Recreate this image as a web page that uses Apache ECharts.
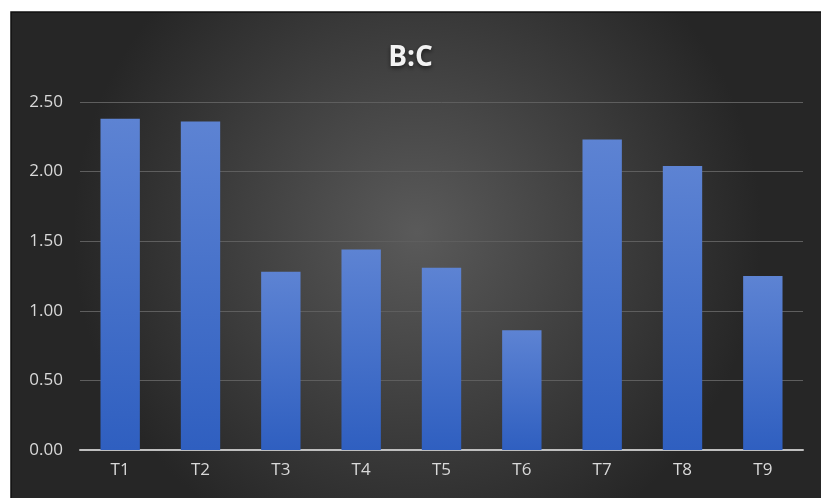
<!DOCTYPE html>
<html>
<head>
<meta charset="utf-8">
<script src="https://cdn.jsdelivr.net/npm/echarts@6/dist/echarts.min.js"></script>
<style>
  html, body { margin: 0; padding: 0; background: #fff; }
  #main { width: 821px; height: 498px; }
</style>
</head>
<body>
<div id="main"></div>
<script>
const categories = ['T1', 'T2', 'T3', 'T4', 'T5', 'T6', 'T7', 'T8', 'T9'];
const ratioValues = [2.38, 2.36, 1.28, 1.44, 1.31, 0.86, 2.23, 2.04, 1.25];

const chart = echarts.init(document.getElementById('main'));

const option = {
  backgroundColor: '#fff',
  graphic: [{
    type: 'rect',
    z: -10,
    silent: true,
    shape: { x: 11, y: 12, width: 812, height: 490 },
    style: {
      fill: new echarts.graphic.RadialGradient(0.5, 0.45, 0.7, [
        { offset: 0, color: '#5a5a5a' },
        { offset: 1, color: '#262626' }
      ]),
      stroke: '#111',
      lineWidth: 1.5
    }
  }],
  title: {
    text: 'B:C',
    left: 'center',
    top: 39,
    textStyle: {
      color: '#f2f2f2',
      fontSize: 28,
      fontWeight: 'bold',
      fontFamily: 'Open Sans',
      textShadowColor: 'rgba(0,0,0,0.6)',
      textShadowBlur: 4,
      textShadowOffsetY: 2
    }
  },
  grid: {
    left: 80,
    right: 18,
    top: 102,
    bottom: 48,
    containLabel: false
  },
  xAxis: {
    type: 'category',
    data: categories,
    axisLine: { lineStyle: { color: '#bfbfbf', width: 2 } },
    axisTick: { show: false },
    axisLabel: {
      color: '#d9d9d9',
      fontSize: 17,
      fontFamily: 'Open Sans',
      margin: 12
    }
  },
  yAxis: {
    type: 'value',
    min: 0,
    max: 2.5,
    interval: 0.5,
    axisLine: { show: false },
    axisTick: { show: false },
    axisLabel: {
      color: '#d9d9d9',
      fontSize: 17,
      fontFamily: 'Open Sans',
      margin: 17,
      formatter: v => v.toFixed(2)
    },
    splitLine: { lineStyle: { color: '#5e5e5e', width: 1 } }
  },
  series: [{
    type: 'bar',
    data: ratioValues,
    barCategoryGap: '51%',
    itemStyle: {
      color: new echarts.graphic.LinearGradient(0, 0, 0, 1, [
        { offset: 0, color: '#5d83d3' },
        { offset: 1, color: '#2f5fc0' }
      ]),
      shadowColor: 'rgba(0,0,0,0.5)',
      shadowBlur: 6,
      shadowOffsetX: 1,
      shadowOffsetY: 1
    }
  }]
};

chart.setOption(option);
</script>
</body>
</html>
